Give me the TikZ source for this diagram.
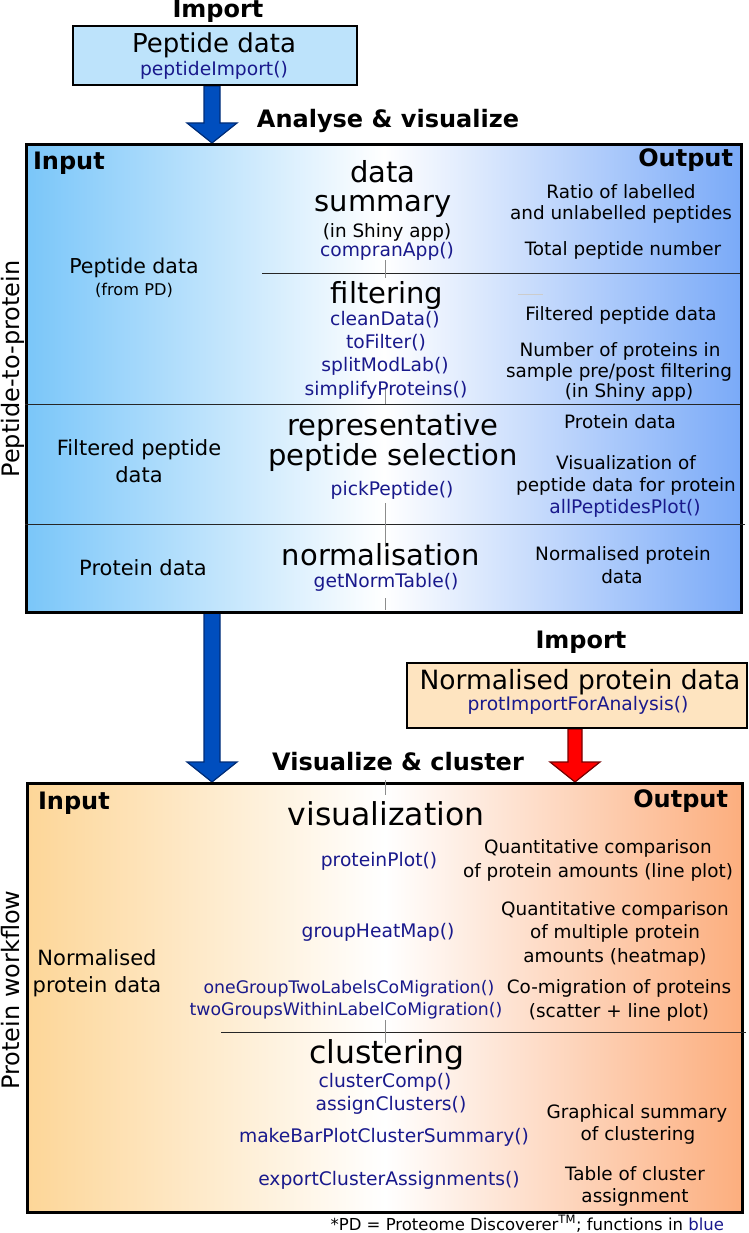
\documentclass[tikz,border=0pt]{standalone}
\usepackage{fontspec}
\setmainfont{DejaVu Sans}
\usetikzlibrary{calc}
\definecolor{fnblue}{RGB}{25,25,140}
\definecolor{topblue}{RGB}{189,227,251}
\definecolor{topor}{RGB}{254,228,192}
\definecolor{bAleft}{RGB}{122,198,249}
\definecolor{bAright}{RGB}{122,170,248}
\definecolor{bBleft}{RGB}{253,214,152}
\definecolor{bBright}{RGB}{252,174,126}
\definecolor{arrblue}{RGB}{0,78,190}
\definecolor{arrbluedk}{RGB}{0,45,120}
\definecolor{arrred}{RGB}{255,0,0}
\definecolor{arrreddk}{RGB}{120,0,0}
\newcommand\fatarrow[5]{%
  \draw[fill=#1, draw=#2, line width=1.2pt, line join=miter]
    ($(#3)+(-#5,0)$) -- ($(#4)+(-#5,-20)$) -- ($(#4)+(-25,-20)$) -- (#4)
    -- ($(#4)+(25,-20)$) -- ($(#4)+(#5,-20)$) -- ($(#3)+(#5,0)$) -- cycle;}
\tikzset{
  txt/.style={inner sep=0pt, outer sep=0pt, anchor=base},
  body/.style={txt, font=\fontsize{18.4}{22}\selectfont},
  inl/.style={txt, font=\fontsize{21}{26}\selectfont},
  fn/.style={txt, text=fnblue, font=\fontsize{18.7}{22}\selectfont},
  fns/.style={txt, text=fnblue, font=\fontsize{17.3}{22}\selectfont},
  ttl/.style={txt, font=\fontsize{29}{30}\selectfont},
  ttlb/.style={txt, font=\fontsize{31.5}{32}\selectfont},
  hd/.style={txt, font=\bfseries\fontsize{24}{26}\selectfont},
  side/.style={txt, rotate=90, font=\fontsize{24}{26}\selectfont},
  sep/.style={line width=1pt, draw=black!85},
  tick/.style={line width=0.9pt, draw=black!45},
  bigbox/.style={draw, line width=3pt, inner sep=0pt, anchor=north west},
  impbox/.style={draw, line width=2pt, inner sep=0pt, anchor=north west},
}
\begin{document}
\begin{tikzpicture}[x=1pt, y=-1pt]
\useasboundingbox (0,0) rectangle (748,1233);

% box outlines (named, used for the arrows; drawn over the arrows below)
\path node[impbox, minimum width=284pt, minimum height=59pt] (pep) at (72,25) {};
\path node[bigbox, minimum width=715pt, minimum height=468pt] (box1) at (25,143) {};
\path node[impbox, minimum width=340pt, minimum height=65pt] (npd) at (406,662) {};
\path node[bigbox, minimum width=715pt, minimum height=429pt] (box2) at (26,782) {};

% arrows
\coordinate (a1s) at ($(pep.south)+(-3,0)$);
\coordinate (a1e) at (a1s |- box1.north);
\fatarrow{arrblue}{arrbluedk}{a1s}{a1e}{8}
\coordinate (a2s) at (212,611);
\coordinate (a2e) at (a2s |- box2.north);
\fatarrow{arrblue}{arrbluedk}{a2s}{a2e}{8}
\coordinate (a3s) at ($(npd.south)+(-2,0)$);
\coordinate (a3e) at (a3s |- box2.north);
\fatarrow{arrred}{arrreddk}{a3s}{a3e}{7}

% boxes drawn
\node[impbox, fill=topblue, minimum width=284pt, minimum height=59pt] (pepbg) at (72,25) {};
\node[bigbox, left color=bAleft, right color=bAright, middle color=white, minimum width=715pt, minimum height=468pt] (box1bg) at (25,143) {};
\node[impbox, fill=topor, minimum width=340pt, minimum height=65pt] (npdbg) at (406,662) {};
\node[bigbox, left color=bBleft, right color=bBright, middle color=white, minimum width=715pt, minimum height=429pt] (box2bg) at (26,782) {};

% separators
\draw[sep] (262,273) -- (740,273);
\draw[sep] (25,404) -- (740,404);
\draw[sep] (25,524) -- (745,524);
\draw[sep] (221,1032) -- (746,1032);
\draw[line width=0.8pt, draw=black!20] (518,294) -- (543,294);
\foreach \ya/\yb in {260/278, 389/404, 503/547, 598/610, 780/795, 1020/1043}
  \draw[tick] (385,\ya) -- (385,\yb);

% top
\node[hd] (imp1) at (218,18) {Import};
\node[txt, font=\fontsize{26}{28}\selectfont] (pept) at (214,53) {Peptide data};
\node[fn] (pepf) at (214,76) {peptideImport()};
\node[hd] (anv) at (388,128) {Analyse \& visualize};

% box 1
\node[hd, anchor=base west] (inp1) at (33,170) {Input};
\node[hd, anchor=base east] (out1) at (733,167) {Output};
\node[side] (lab1) at (19,369) {Peptide-to-protein};

\node[ttl] (ds1) at (383,183) {data};
\node[ttl] (ds2) at (383,212) {summary};
\node[body] (ds3) at (387,237) {(in Shiny app)};
\node[fn] (ds4) at (387,257) {compranApp()};
\node[txt, font=\fontsize{20.5}{22}\selectfont] (pd1) at (134,273) {Peptide data};
\node[txt, font=\fontsize{16.2}{20}\selectfont] (pd2) at (134,295) {(from PD)};
\node[body] (r1) at (621,199) {Ratio of labelled};
\node[body] (r2) at (621,220) {and unlabelled peptides};
\node[body] (r3) at (623,255) {Total peptide number};

\node[ttl] (f0) at (387,303) {filtering};
\node[fn] (f1) at (385,325) {cleanData()};
\node[fn] (f2) at (386,348) {toFilter()};
\node[fn] (f3) at (385,371) {splitModLab()};
\node[fn] (f4) at (386,395) {simplifyProteins()};
\node[body] (o1) at (621,320) {Filtered peptide data};
\node[body] (o2) at (620,356) {Number of proteins in};
\node[body] (o3) at (619,377) {sample pre/post filtering};
\node[body] (o4) at (629,397) {(in Shiny app)};

\node[inl] (fp1) at (139,455) {Filtered peptide};
\node[inl] (fp2) at (139,482) {data};
\node[ttl] (rp1) at (393,435) {representative};
\node[ttl] (rp2) at (393,465) {peptide selection};
\node[fn] (rp3) at (392,495) {pickPeptide()};
\node[body] (pr1) at (620,428) {Protein data};
\node[body] (v1) at (626,469) {Visualization of};
\node[body] (v2) at (626,491) {peptide data for protein};
\node[fn] (v3) at (625,513) {allPeptidesPlot()};

\node[inl] (prd) at (143,575) {Protein data};
\node[ttl] (nm1) at (381,565) {normalisation};
\node[fn] (nm2) at (386,587) {getNormTable()};
\node[body] (np1) at (623,560) {Normalised protein};
\node[body] (np2) at (622,583) {data};

% import 2
\node[hd] (imp2) at (581,648) {Import};
\node[txt, font=\fontsize{26.5}{28}\selectfont] (npt) at (580,689) {Normalised protein data};
\node[fn] (npf) at (578,710) {protImportForAnalysis()};
\node[hd] (vac) at (398,770) {Visualize \& cluster};

% box 2
\node[hd, anchor=base west] (inp2) at (38,809) {Input};
\node[hd, anchor=base east] (out2) at (728,807) {Output};
\node[side] (lab2) at (19,990) {Protein workflow};

\node[ttlb] (vis) at (386,825) {visualization};
\node[fn] (pp) at (379,866) {proteinPlot()};
\node[body] (q1) at (598,853) {Quantitative comparison};
\node[body] (q2) at (598,877) {of protein amounts (line plot)};
\node[fn] (gh) at (378,937) {groupHeatMap()};
\node[body] (q3) at (615,915) {Quantitative comparison};
\node[body] (q4) at (615,938) {of multiple protein};
\node[body] (q5) at (615,962) {amounts (heatmap)};
\node[inl] (nd1) at (97,965) {Normalised};
\node[inl] (nd2) at (97,992) {protein data};
\node[fns] (cm1) at (349,993) {oneGroupTwoLabelsCoMigration()};
\node[fns] (cm2) at (346,1015) {twoGroupsWithinLabelCoMigration()};
\node[body] (c1) at (619,993) {Co-migration of proteins};
\node[body] (c2) at (619,1017) {(scatter + line plot)};

\node[ttlb] (cl) at (387,1063) {clustering};
\node[fn] (cc) at (385,1087) {clusterComp()};
\node[fn] (ac) at (391,1110) {assignClusters()};
\node[fn] (mb) at (384,1142) {makeBarPlotClusterSummary()};
\node[fn] (ec) at (389,1185) {exportClusterAssignments()};
\node[body] (g1) at (637,1118) {Graphical summary};
\node[body] (g2) at (638,1140) {of clustering};
\node[body] (t1) at (635,1180) {Table of cluster};
\node[body] (t2) at (635,1202) {assignment};

\node[txt, anchor=base east, font=\fontsize{16.5}{18}\selectfont] (foot) at (724,1230)
  {*PD = Proteome Discoverer\textsuperscript{TM}; functions in \textcolor{fnblue}{blue}};
\end{tikzpicture}
\end{document}
